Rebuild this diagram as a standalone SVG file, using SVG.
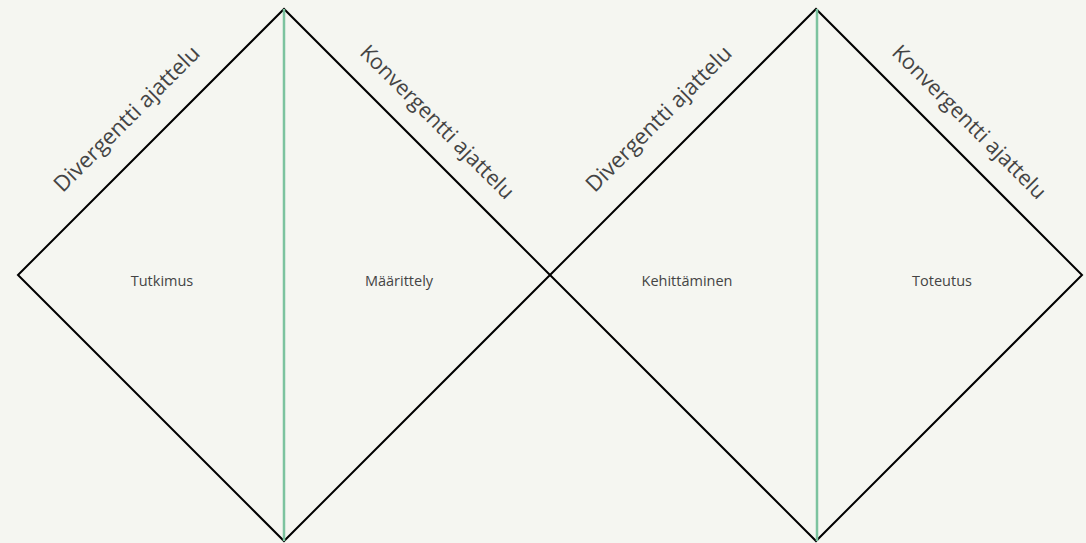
<svg xmlns="http://www.w3.org/2000/svg" width="1086" height="543" viewBox="0 0 1086 543">
<style>
.edge{fill:none;stroke:#000;stroke-width:2}
.axis{stroke:#7cc39f;stroke-width:2.5}
.lbl{font-family:"Open Sans","Noto Sans",sans-serif;font-size:14.5px;fill:#444;text-anchor:middle}
.side{font-family:"Open Sans","Noto Sans",sans-serif;font-size:22px;fill:#444;text-anchor:middle}
.side2{font-family:"Open Sans","Noto Sans",sans-serif;font-size:21.3px;fill:#444;text-anchor:middle}
</style>
<rect width="1086" height="543" fill="#f5f6f1"/>
<g id="diamond1">
<polygon class="edge" points="18,275 284,9 550,275 284,541"/>
<text class="side" transform="translate(132,124) rotate(-45)">Divergentti ajattelu</text>
<text class="side2" transform="translate(432,127) rotate(45)">Konvergentti ajattelu</text>
</g>
<g id="diamond2">
<polygon class="edge" points="550,275 816,9 1082,275 816,541"/>
<text class="side" transform="translate(664,124) rotate(-45)">Divergentti ajattelu</text>
<text class="side2" transform="translate(964,127) rotate(45)">Konvergentti ajattelu</text>
</g>
<g id="connectors">
<line class="axis" x1="284" y1="9" x2="284" y2="541"/>
<line class="axis" x1="817" y1="9" x2="817" y2="541"/>
</g>
<g id="tutkimus"><text class="lbl" x="162" y="286">Tutkimus</text></g>
<g id="maarittely"><text class="lbl" x="399" y="286">Määrittely</text></g>
<g id="kehittaminen"><text class="lbl" x="687" y="286">Kehittäminen</text></g>
<g id="toteutus"><text class="lbl" x="942" y="286">Toteutus</text></g>
</svg>
